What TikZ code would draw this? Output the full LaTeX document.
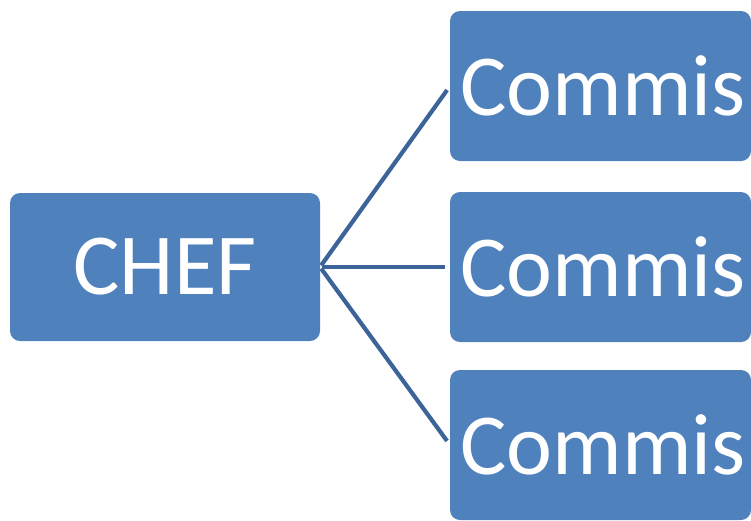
\documentclass[tikz,border=0pt]{standalone}
\usepackage{fontspec}
\setmainfont{Carlito}
\definecolor{boxblue}{HTML}{4F81BD}
\definecolor{linkblue}{HTML}{3D6498}
\begin{document}
\begin{tikzpicture}[x=1pt,y=-1pt,
  box/.style={fill=boxblue, rounded corners=10pt, text=white,
    font=\fontsize{87}{87}\selectfont, inner sep=0pt, outer sep=0pt},
  chefbox/.style={box, minimum width=310pt, minimum height=148pt},
  staffbox/.style={box, minimum width=301pt, minimum height=150pt},
  link/.style={draw=linkblue, line width=4.2pt, shorten >=5pt, shorten <=2pt}]
  \useasboundingbox (0,0) rectangle (751,520);
  \node[chefbox] (chef) at (165,267) {CHEF};
  \node[staffbox] (c1) at (600.5,86) {\hspace*{5pt}Commis};
  \node[staffbox] (c2) at (600.5,267) {\hspace*{5pt}Commis};
  \node[staffbox] (c3) at (600.5,445) {\hspace*{5pt}Commis};
  \coordinate (hub) at (chef.east);
  \draw[link] (hub) -- (c1.west);
  \draw[link] (hub) -- (c2.west);
  \draw[link] (hub) -- (c3.west);
\end{tikzpicture}
\end{document}
